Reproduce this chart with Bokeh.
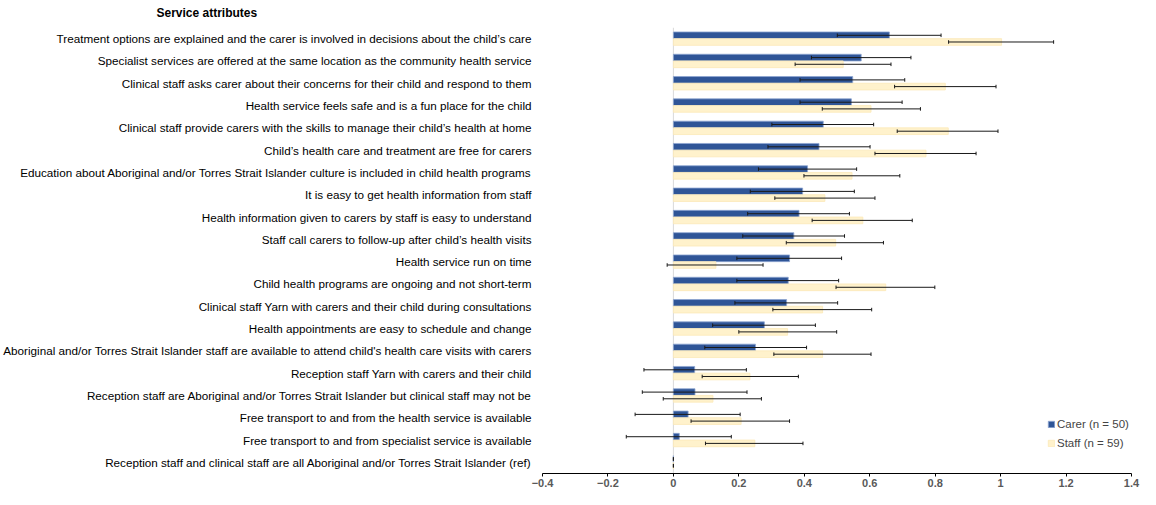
from bokeh.plotting import figure
from bokeh.models import (ColumnDataSource, FactorRange, Span, Legend, LegendItem,
                          FixedTicker)
from bokeh.transform import dodge
from bokeh.embed import file_html
from bokeh.resources import INLINE

attributes = [
    "Treatment options are explained and the carer is involved in decisions about the child\u2019s care",
    "Specialist services are offered at the same location as the community health service",
    "Clinical staff asks carer about their concerns for their child and respond to them",
    "Health service feels safe and is a fun place for the child",
    "Clinical staff provide carers with the skills to manage their child\u2019s health at home",
    "Child\u2019s health care and treatment are free for carers",
    "Education about Aboriginal and/or Torres Strait Islander culture is included in child health programs",
    "It is easy to get health information from staff",
    "Health information given to carers by staff is easy to understand",
    "Staff call carers to follow-up after child\u2019s health visits",
    "Health service run on time",
    "Child health programs are ongoing and not short-term",
    "Clinical staff Yarn with carers and their child during consultations",
    "Health appointments are easy to schedule and change",
    "Aboriginal and/or Torres Strait Islander staff are available to attend child's health care visits with carers",
    "Reception staff Yarn with carers and their child",
    "Reception staff are Aboriginal and/or Torres Strait Islander but clinical staff may not be",
    "Free transport to and from the health service is available",
    "Free transport to and from specialist service is available",
    "Reception staff and clinical staff are all Aboriginal and/or Torres Strait Islander (ref)",
]

carer = [0.660, 0.574, 0.548, 0.544, 0.458, 0.445, 0.410, 0.395, 0.384, 0.368,
         0.355, 0.351, 0.346, 0.278, 0.251, 0.065, 0.066, 0.045, 0.018, 0.0]
carer_lo = [0.501, 0.422, 0.387, 0.387, 0.301, 0.289, 0.260, 0.235, 0.227, 0.212,
            0.194, 0.194, 0.188, 0.120, 0.096, -0.090, -0.095, -0.117, -0.144, 0.0]
carer_hi = [0.818, 0.726, 0.707, 0.699, 0.612, 0.601, 0.560, 0.553, 0.538, 0.523,
            0.514, 0.505, 0.502, 0.434, 0.407, 0.223, 0.225, 0.204, 0.177, 0.0]

staff = [1.003, 0.519, 0.831, 0.604, 0.840, 0.772, 0.546, 0.463, 0.579, 0.496,
         0.130, 0.649, 0.456, 0.349, 0.456, 0.234, 0.121, 0.207, 0.249, 0.0]
staff_lo = [0.841, 0.372, 0.676, 0.455, 0.684, 0.616, 0.399, 0.310, 0.424, 0.345,
            -0.019, 0.497, 0.304, 0.200, 0.307, 0.088, -0.031, 0.054, 0.098, 0.0]
staff_hi = [1.162, 0.665, 0.986, 0.755, 0.992, 0.925, 0.692, 0.616, 0.730, 0.642,
            0.274, 0.799, 0.606, 0.499, 0.604, 0.382, 0.269, 0.355, 0.396, 0.0]

tick_values = [-0.4, -0.2, 0, 0.2, 0.4, 0.6, 0.8, 1, 1.2, 1.4]
tick_labels = ["\u22120.4", "\u22120.2", "0", "0.2", "0.4", "0.6", "0.8", "1", "1.2", "1.4"]

series_labels = ["Carer (n = 50)", "Staff (n = 59)"]
title_text = "Service attributes"

FONT = "Liberation Sans"
BLUE = "#2F5597"
CREAM = "#FFF2CC"

src = ColumnDataSource(dict(attr=attributes, carer=carer, carer_lo=carer_lo, carer_hi=carer_hi,
                            staff=staff, staff_lo=staff_lo, staff_hi=staff_hi))

p = figure(width=1140, height=489,
           y_range=FactorRange(factors=attributes[::-1], range_padding=0),
           x_range=(-0.4, 1.4),
           output_backend="svg", toolbar_location=None,
           min_border_left=541, min_border_right=9, min_border_top=0, min_border_bottom=0)

p.title.text = title_text
p.title.align = "left"
p.title.vertical_align = "top"
p.title.offset = -386
p.title.standoff = 11
p.title.text_font = FONT
p.title.text_font_size = "12px"
p.title.text_font_style = "bold"
p.title.text_color = "#000000"

p.add_layout(Span(location=0, dimension="height", line_color="#D9D9D9", line_width=1,
                  level="underlay"))

off_c = 0.15
off_s = -0.15
cap = 0.08

r_carer = p.hbar(y=dodge("attr", off_c, range=p.y_range), left=0, right="carer", height=0.3,
                 fill_color=BLUE, line_color="#8EA6D2", line_width=0.8, source=src)
r_staff = p.hbar(y=dodge("attr", off_s, range=p.y_range), left=0, right="staff", height=0.3,
                 fill_color=CREAM, line_color="#FBE9B7", line_width=0.8, source=src)

for lo, hi, off in (("carer_lo", "carer_hi", off_c), ("staff_lo", "staff_hi", off_s)):
    p.segment(x0=lo, x1=hi, y0=dodge("attr", off, range=p.y_range),
              y1=dodge("attr", off, range=p.y_range), line_color="#1a1a1a", line_width=1,
              source=src)
    for end in (lo, hi):
        p.segment(x0=end, x1=end, y0=dodge("attr", off - cap, range=p.y_range),
                  y1=dodge("attr", off + cap, range=p.y_range), line_color="#1a1a1a",
                  line_width=1, source=src)

p.xgrid.visible = False
p.ygrid.visible = False
p.outline_line_color = None

xa = p.xaxis[0]
xa.ticker = FixedTicker(ticks=tick_values)
xa.major_label_overrides = {v: l for v, l in zip(tick_values, tick_labels)}
xa.axis_line_color = "#000000"
xa.major_tick_line_color = "#000000"
xa.major_tick_in = 0
xa.major_tick_out = 3
xa.minor_tick_line_color = None
xa.major_label_standoff = 2
xa.major_label_text_font = FONT
xa.major_label_text_font_size = "11px"
xa.major_label_text_font_style = "bold"
xa.major_label_text_color = "#595959"

ya = p.yaxis[0]
ya.axis_line_color = None
ya.major_tick_line_color = None
ya.minor_tick_line_color = None
ya.major_label_standoff = 5
ya.major_label_text_font = FONT
ya.major_label_text_font_size = "11.7px"
ya.major_label_text_color = "#000000"

legend = Legend(items=[LegendItem(label=series_labels[0], renderers=[r_carer]),
                       LegendItem(label=series_labels[1], renderers=[r_staff])],
                location=(505, 22), padding=0, margin=0, spacing=3,
                glyph_width=8, glyph_height=8, label_height=16, label_standoff=2,
                label_text_font=FONT, label_text_font_size="11.5px",
                border_line_color=None, background_fill_alpha=0)
p.add_layout(legend)

open("out.html", "w").write(file_html(p, INLINE))
